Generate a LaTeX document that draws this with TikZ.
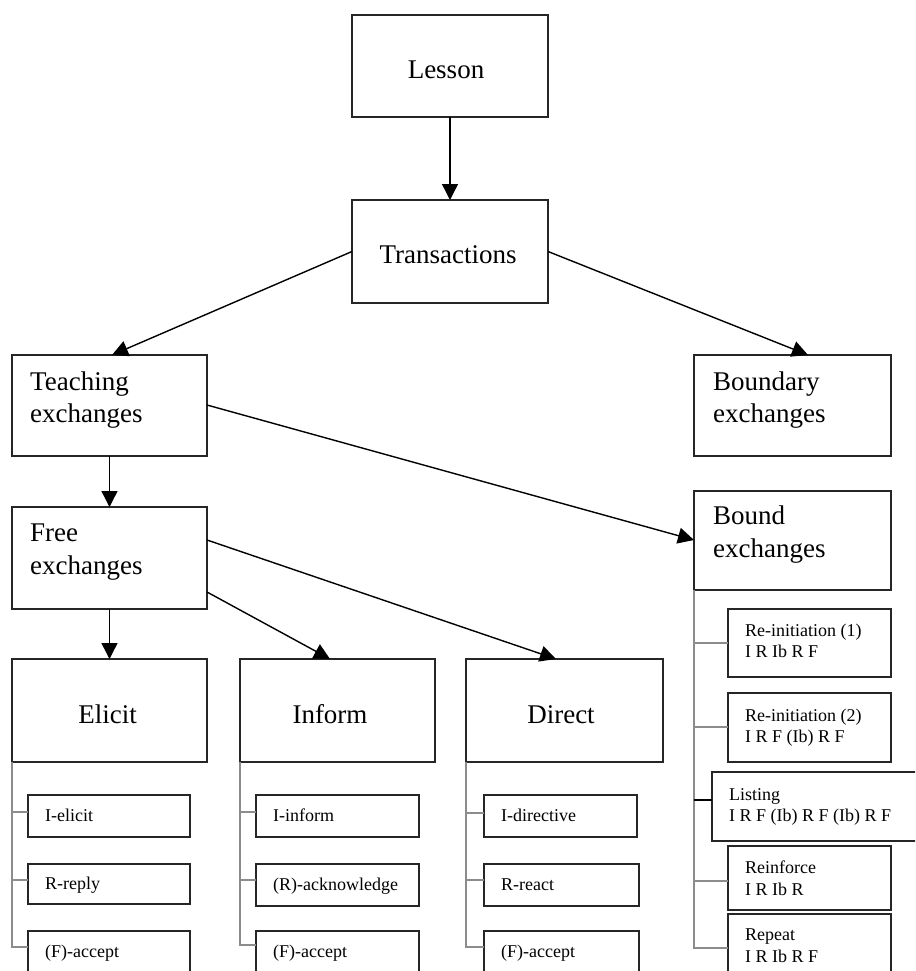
\documentclass[tikz,border=0pt]{standalone}
\usepackage{fontspec}
\setmainfont{Liberation Serif}
\usetikzlibrary{arrows.meta}
\begin{document}
\begin{tikzpicture}[x=1pt,y=-1pt,
 box/.style={draw=black!85, line width=1.6pt, inner sep=0pt, outer sep=0pt},
 big/.style={font=\fontsize{27}{31}\selectfont, inner sep=0pt},
 small/.style={font=\fontsize{18}{21}\selectfont, inner sep=0pt},
 arr/.style={line width=1.4pt, -{Triangle[length=16pt,width=16pt]}},
 tree/.style={draw=black!45, line width=1.6pt},
 treeblack/.style={draw=black, line width=1.6pt},
]
\useasboundingbox (0,0) rectangle (915,971);
\clip (0,0) rectangle (915,971);

% main boxes
\node[box, minimum width=196pt, minimum height=102pt] (lesson) at (450,66) {};
\node[box, minimum width=196pt, minimum height=103pt] (trans) at (450,251.5) {};
\node[box, minimum width=195pt, minimum height=101pt] (teach) at (109.5,405.5) {};
\node[box, minimum width=195pt, minimum height=102pt] (free) at (109.5,558) {};
\node[box, minimum width=197pt, minimum height=101pt] (boundary) at (792.5,405.5) {};
\node[box, minimum width=197pt, minimum height=99pt] (bound) at (792.5,540.5) {};
\node[box, minimum width=195pt, minimum height=103pt] (elicit) at (109.5,710.5) {};
\node[box, minimum width=195pt, minimum height=103pt] (inform) at (337.5,710.5) {};
\node[box, minimum width=197pt, minimum height=103pt] (direct) at (564.5,710.5) {};

% texts of main boxes
\node[big, anchor=base] (lessonT) at (446,79) {Lesson};
\node[big, anchor=base] (transT) at (448,263) {Transactions};
\node[big, anchor=base west] (teachA) at (30,390) {Teaching};
\node[big, anchor=base west] (teachB) at (30,422) {exchanges};
\node[big, anchor=base west] (freeA) at (30,541) {Free};
\node[big, anchor=base west] (freeB) at (30,574) {exchanges};
\node[big, anchor=base west] (boundaryA) at (713,390) {Boundary};
\node[big, anchor=base west] (boundaryB) at (713,422) {exchanges};
\node[big, anchor=base west] (boundA) at (713,524) {Bound};
\node[big, anchor=base west] (boundB) at (713,557) {exchanges};
\node[big, anchor=base] (elicitT) at (107.5,723) {Elicit};
\node[big, anchor=base] (informT) at (330,723) {Inform};
\node[big, anchor=base] (directT) at (561,723) {Direct};

% sub boxes under Elicit
\node[box, minimum width=162pt, minimum height=42pt] (ie) at (109,816) {};
\node[box, minimum width=162pt, minimum height=40pt] (rr) at (109,884) {};
\node[box, minimum width=162pt, minimum height=60pt] (fa1) at (109,961) {};
\node[small, anchor=base west] (ieT) at (45,821) {I-elicit};
\node[small, anchor=base west] (rrT) at (45,889) {R-reply};
\node[small, anchor=base west] (fa1T) at (45,957) {(F)-accept};

% sub boxes under Inform
\node[box, minimum width=163pt, minimum height=42pt] (ii) at (337.5,816) {};
\node[box, minimum width=163pt, minimum height=42pt] (ra) at (337.5,885) {};
\node[box, minimum width=163pt, minimum height=60pt] (fa2) at (337.5,961) {};
\node[small, anchor=base west] (iiT) at (273,821) {I-inform};
\node[small, anchor=base west] (raT) at (273,890) {(R)-acknowledge};
\node[small, anchor=base west] (fa2T) at (273,957) {(F)-accept};

% sub boxes under Direct
\node[box, minimum width=153pt, minimum height=42pt] (id) at (560.5,816) {};
\node[box, minimum width=155pt, minimum height=42pt] (rx) at (561.5,885) {};
\node[box, minimum width=155pt, minimum height=60pt] (fa3) at (561.5,961) {};
\node[small, anchor=base west] (idT) at (501,821) {I-directive};
\node[small, anchor=base west] (rxT) at (501,890) {R-react};
\node[small, anchor=base west] (fa3T) at (501,957) {(F)-accept};

% sub boxes under Bound
\node[box, minimum width=163pt, minimum height=68pt] (r1) at (809.5,643) {};
\node[box, minimum width=163pt, minimum height=69pt] (r2) at (809.5,727.5) {};
\node[box, minimum width=213pt, minimum height=69pt] (li) at (818.5,806.5) {};
\node[box, minimum width=163pt, minimum height=64pt] (rf) at (809.5,878) {};
\node[box, minimum width=163pt, minimum height=76pt] (rp) at (809.5,952) {};
\node[small, anchor=base west] (r1A) at (745,636) {Re-initiation (1)};
\node[small, anchor=base west] (r1B) at (745,657) {I R Ib R F};
\node[small, anchor=base west] (r2A) at (745,721) {Re-initiation (2)};
\node[small, anchor=base west] (r2B) at (745,742) {I R F (Ib) R F};
\node[small, anchor=base west] (liA) at (729,800) {Listing};
\node[small, anchor=base west] (liB) at (729,821) {I R F (Ib) R F (Ib) R F};
\node[small, anchor=base west] (rfA) at (745,873) {Reinforce};
\node[small, anchor=base west] (rfB) at (745,895) {I R Ib R};
\node[small, anchor=base west] (rpA) at (745,940) {Repeat};
\node[small, anchor=base west] (rpB) at (745,962) {I R Ib R F};

% tree connectors
\draw[tree] (elicit.south west) |- ([yshift=-17pt]ie.north west);
\draw[tree] (elicit.south west) |- ([yshift=-16pt]rr.north west);
\draw[tree] (elicit.south west) |- ([yshift=-16pt]fa1.north west);
\draw[tree] (inform.south west) |- ([yshift=-17pt]ii.north west);
\draw[tree] (inform.south west) |- ([yshift=-16pt]ra.north west);
\draw[tree] (inform.south west) |- ([yshift=-14pt]fa2.north west);
\draw[tree] (direct.south west) |- ([yshift=-18pt]id.north west);
\draw[tree] (direct.south west) |- ([yshift=-16pt]rx.north west);
\draw[tree] (direct.south west) |- ([yshift=-16pt]fa3.north west);
\draw[tree] (bound.south west) |- ([yshift=-34pt]r1.north west);
\draw[tree] (bound.south west) |- ([yshift=-34pt]r2.north west);
\draw[tree] (bound.south west) |- ([yshift=-35pt]rf.north west);
\draw[tree] (bound.south west) |- ([yshift=-34pt]rp.north west);
\draw[treeblack] ([yshift=-28pt]li.north west) -- ([yshift=-28pt]li.north west -| bound.south west);

% arrows
\draw[arr] (lesson.south) -- (trans.north);
\draw[arr] (trans.west) -- ([xshift=100pt]teach.north west);
\draw[arr] (trans.east) -- ([xshift=114pt]boundary.north west);
\draw[arr] (teach.south) -- (free.north);
\draw[arr] ([yshift=-50pt]teach.north east) -- ([yshift=-49pt]bound.north west);
\draw[arr] (free.south) -- (elicit.north);
\draw[arr] ([yshift=-85pt]free.north east) -- ([xshift=90pt]inform.north west);
\draw[arr] ([yshift=-33pt]free.north east) -- ([xshift=90pt]direct.north west);
\end{tikzpicture}
\end{document}
